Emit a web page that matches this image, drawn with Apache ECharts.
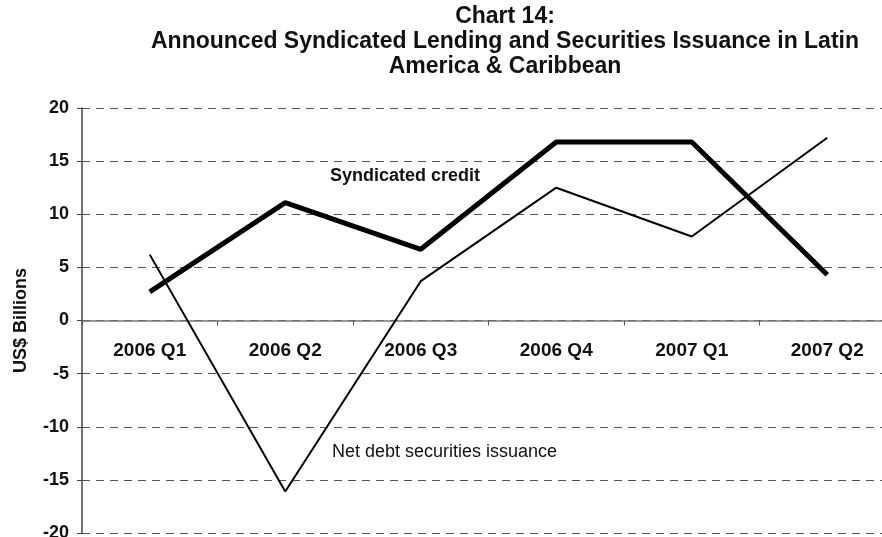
<!DOCTYPE html>
<html>
<head>
<meta charset="utf-8">
<script src="https://cdn.jsdelivr.net/npm/echarts@6/dist/echarts.min.js"></script>
<style>
  html, body { margin: 0; padding: 0; background: #fff; }
  #chart { width: 882px; height: 537px; }
</style>
</head>
<body>
<div id="chart"></div>
<script>
// Quarterly categories
const quarters = ['2006 Q1', '2006 Q2', '2006 Q3', '2006 Q4', '2007 Q1', '2007 Q2'];
// US$ billions
const syndicatedCredit = [2.7, 11.1, 6.7, 16.8, 16.8, 4.3];
const netDebtIssuance = [6.2, -16.1, 3.7, 12.5, 7.9, 17.2];
// Value axis range and step
const yMin = -20;
const yMax = 20;
const yStep = 5;

const titleLines = [
  'Chart 14:',
  'Announced Syndicated Lending and Securities Issuance in Latin',
  'America & Caribbean'
];

const FONT = '"Liberation Sans", Arial, Helvetica, sans-serif';

const gridTop = 108;
const gridHeight = 425;

const chart = echarts.init(document.getElementById('chart'), null, { renderer: 'canvas' });

chart.setOption({
  backgroundColor: '#ffffff',
  animation: false,
  grid: {
    left: 82, top: gridTop, width: 813, height: gridHeight,
    containLabel: false,
    outerBoundsMode: 'none'
  },
  xAxis: {
    type: 'category',
    data: quarters,
    boundaryGap: true,
    position: 'bottom',
    // category axis sits on the zero line, halfway up the plot
    offset: -gridHeight / 2,
    axisLine: { onZero: false, lineStyle: { color: '#777', width: 1.5 } },
    axisTick: { show: true, length: 5, lineStyle: { color: '#555' } },
    axisLabel: {
      margin: 21,
      color: '#111',
      fontFamily: FONT,
      fontWeight: 'bold',
      fontSize: 19
    },
    splitLine: { show: false }
  },
  yAxis: {
    type: 'value',
    min: yMin,
    max: yMax,
    interval: yStep,
    name: 'US$ Billions',
    nameLocation: 'middle',
    nameGap: 52,
    nameRotate: 90,
    nameTextStyle: { color: '#111', fontFamily: FONT, fontWeight: 'bold', fontSize: 18 },
    axisLine: { show: true, lineStyle: { color: '#444', width: 1.5 } },
    axisTick: { show: true, length: 5, lineStyle: { color: '#444' } },
    axisLabel: {
      margin: 13,
      color: '#111',
      fontFamily: FONT,
      fontWeight: 'bold',
      fontSize: 18
    },
    splitLine: { show: true, lineStyle: { color: '#555', type: [8, 6], width: 1 } }
  },
  series: [
    {
      name: 'Syndicated credit',
      type: 'line',
      data: syndicatedCredit,
      symbol: 'none',
      lineStyle: { color: '#000', width: 5 },
      z: 3
    },
    {
      name: 'Net debt securities issuance',
      type: 'line',
      data: netDebtIssuance,
      symbol: 'none',
      lineStyle: { color: '#000', width: 2 },
      z: 2
    }
  ],
  graphic: [
    {
      type: 'text',
      x: 505,
      y: 4,
      style: {
        text: titleLines.join('\n'),
        textAlign: 'center',
        textVerticalAlign: 'top',
        font: 'bold 23px ' + FONT,
        lineHeight: 25,
        fill: '#111'
      }
    },
    {
      type: 'text',
      left: 330,
      top: 167,
      style: {
        text: 'Syndicated credit',
        font: 'bold 18px ' + FONT,
        fill: '#111'
      }
    },
    {
      type: 'text',
      left: 332,
      top: 443,
      style: {
        text: 'Net debt securities issuance',
        font: '18px ' + FONT,
        fill: '#111'
      }
    }
  ]
});
</script>
</body>
</html>
